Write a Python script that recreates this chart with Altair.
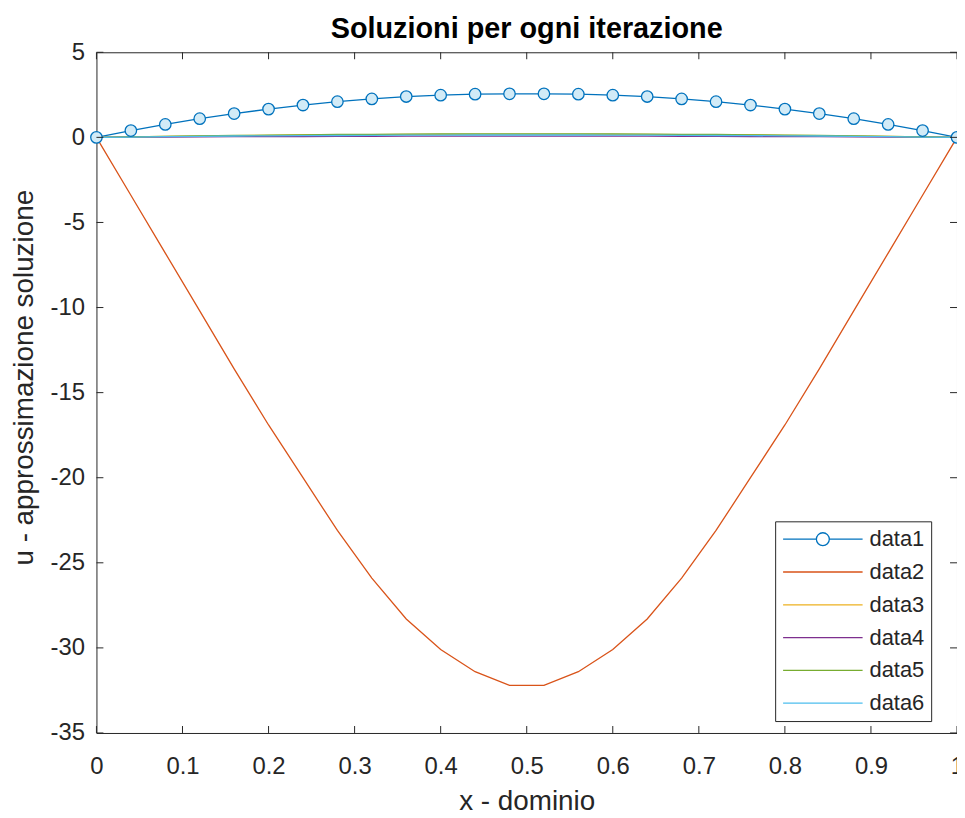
import altair as alt
import pandas as pd

# ---------------- data ----------------
x_grid = [0.00, 0.04, 0.08, 0.12, 0.16, 0.20, 0.24, 0.28, 0.32, 0.36, 0.40, 0.44, 0.48,
          0.52, 0.56, 0.60, 0.64, 0.68, 0.72, 0.76, 0.80, 0.84, 0.88, 0.92, 0.96, 1.00]

data1 = [0.00, 0.40, 0.76, 1.10, 1.40, 1.66, 1.90, 2.10, 2.26, 2.40, 2.48, 2.54, 2.56,
         2.56, 2.54, 2.48, 2.40, 2.26, 2.10, 1.90, 1.66, 1.40, 1.10, 0.76, 0.40, 0.00]
data2 = [0.0, -3.4, -6.8, -10.2, -13.6, -16.9, -20.0, -23.1, -25.9, -28.3, -30.1, -31.4, -32.2,
         -32.2, -31.4, -30.1, -28.3, -25.9, -23.1, -20.0, -16.9, -13.6, -10.2, -6.8, -3.4, 0.0]
data3 = [0.00, 0.03, 0.06, 0.08, 0.10, 0.12, 0.14, 0.15, 0.16, 0.17, 0.18, 0.18, 0.18,
         0.18, 0.18, 0.18, 0.17, 0.16, 0.15, 0.14, 0.12, 0.10, 0.08, 0.06, 0.03, 0.00]
data4 = [0.00, 0.01, 0.02, 0.03, 0.04, 0.05, 0.05, 0.06, 0.06, 0.07, 0.07, 0.07, 0.07,
         0.07, 0.07, 0.07, 0.07, 0.06, 0.06, 0.05, 0.05, 0.04, 0.03, 0.02, 0.01, 0.00]
data5 = [0.00, 0.03, 0.06, 0.09, 0.11, 0.13, 0.15, 0.17, 0.18, 0.19, 0.20, 0.20, 0.20,
         0.20, 0.20, 0.20, 0.19, 0.18, 0.17, 0.15, 0.13, 0.11, 0.09, 0.06, 0.03, 0.00]
data6 = [0.00, 0.02, 0.04, 0.06, 0.08, 0.09, 0.10, 0.11, 0.12, 0.13, 0.13, 0.14, 0.14,
         0.14, 0.14, 0.13, 0.13, 0.12, 0.11, 0.10, 0.09, 0.08, 0.06, 0.04, 0.02, 0.00]

series_names = ["data1", "data2", "data3", "data4", "data5", "data6"]
series_values = [data1, data2, data3, data4, data5, data6]
series_colors = ["#0072BD", "#D95319", "#EDB120", "#7E2F8E", "#77AC30", "#4DBEEE"]

x_ticks = [0, 0.1, 0.2, 0.3, 0.4, 0.5, 0.6, 0.7, 0.8, 0.9, 1]
y_ticks = [-35, -30, -25, -20, -15, -10, -5, 0, 5]

title_text = "Soluzioni per ogni iterazione"
x_title = "x - dominio"
y_title = "u - approssimazione soluzione"

# ---------------- tables ----------------
rows = []
for name, vals in zip(series_names, series_values):
    for xv, uv in zip(x_grid, vals):
        rows.append({"x": xv, "u": uv, "series": name})
df = pd.DataFrame(rows)
df1 = df[df["series"] == "data1"]
xt = pd.DataFrame({"v": x_ticks})
yt = pd.DataFrame({"v": y_ticks})

# ---------------- styling ----------------
W, H = 866, 685
FONT = "Liberation Sans"
TXT = "#262626"
TICK = 7

# legend symbols: line with a circle marker for data1, plain line for the rest
r = 0.1625
line_circle = (f"M-1,0H{-r}M{r},0H1M{r},0A{r},{r},0,1,1,{-r},0A{r},{r},0,1,1,{r},0")
plain_line = "M-1,0H1"
legend_paths = [line_circle] + [plain_line] * 5

xscale = alt.Scale(domain=[0, 1], nice=False, zero=False)
yscale = alt.Scale(domain=[-35, 5], nice=False, zero=False)
color_scale = alt.Scale(domain=series_names, range=series_colors)
shape_scale = alt.Scale(domain=series_names, range=legend_paths)

xaxis = alt.Axis(values=x_ticks, labelExpr="'' + datum.value", title=x_title,
                 grid=False, domain=False, ticks=False, labelPadding=22,
                 labelFontSize=24, titleFontSize=28, titlePadding=9,
                 labelFont=FONT, titleFont=FONT, titleFontWeight="normal",
                 labelColor=TXT, titleColor=TXT, labelFlush=False)
yaxis = alt.Axis(values=y_ticks, labelExpr="'' + datum.value", title=y_title,
                 grid=False, domain=False, ticks=False, labelPadding=12,
                 labelFontSize=24, titleFontSize=28, titlePadding=12, titleY=327,
                 labelFont=FONT, titleFont=FONT, titleFontWeight="normal",
                 labelColor=TXT, titleColor=TXT, labelFlush=False)

leg = alt.Legend(title=None, orient="none", legendX=683, legendY=472,
                 padding=6, rowPadding=9, clipHeight=24, symbolSize=6400,
                 symbolStrokeWidth=1.3, symbolOffset=1, labelOffset=6,
                 labelFontSize=22, labelFont=FONT, labelColor=TXT,
                 strokeColor=TXT, fillColor="white")

X = alt.X("x:Q", scale=xscale, axis=xaxis)
Y = alt.Y("u:Q", scale=yscale, axis=yaxis)

legend_layer = alt.Chart(df).transform_filter("false").mark_point(
    filled=False, opacity=1, strokeWidth=1.3,
).encode(
    x=X, y=Y,
    color=alt.Color("series:N", scale=color_scale, legend=leg),
    shape=alt.Shape("series:N", scale=shape_scale, legend=leg),
)

lines = alt.Chart(df).mark_line(strokeWidth=1.3).encode(
    x="x:Q", y="u:Q",
    color=alt.Color("series:N", scale=color_scale, legend=leg),
)

markers = alt.Chart(df1).mark_point(
    shape="circle", size=133, filled=True, fill="#d2ebf7", stroke="#0072BD",
    strokeWidth=1.3, opacity=1,
).encode(x="x:Q", y="u:Q")

# inward tick marks on all four sides of the box
tick_bottom = alt.Chart(xt).mark_rule(color=TXT, strokeWidth=1).encode(
    x="v:Q", y=alt.value(H), y2=alt.value(H - TICK))
tick_top = alt.Chart(xt).mark_rule(color=TXT, strokeWidth=1).encode(
    x="v:Q", y=alt.value(0), y2=alt.value(TICK))
tick_left = alt.Chart(yt).mark_rule(color=TXT, strokeWidth=1).encode(
    y="v:Q", x=alt.value(0), x2=alt.value(TICK))
tick_right = alt.Chart(yt).mark_rule(color=TXT, strokeWidth=1).encode(
    y="v:Q", x=alt.value(W - TICK), x2=alt.value(W))

chart = alt.layer(
    legend_layer, lines, markers,
    tick_bottom, tick_top, tick_left, tick_right,
).properties(
    width=W, height=H,
    title=alt.TitleParams(title_text, font=FONT, fontSize=29, fontWeight="bold",
                          color="#000000", offset=7, dy=11, anchor="middle",
                          frame="group"),
    padding={"left": 89, "top": 42, "right": 0, "bottom": 84},
    autosize="none",
    background="white",
).configure_view(
    stroke=TXT, strokeWidth=1,
)

chart.save("out.html", embed_options={"renderer": "svg", "actions": False})
